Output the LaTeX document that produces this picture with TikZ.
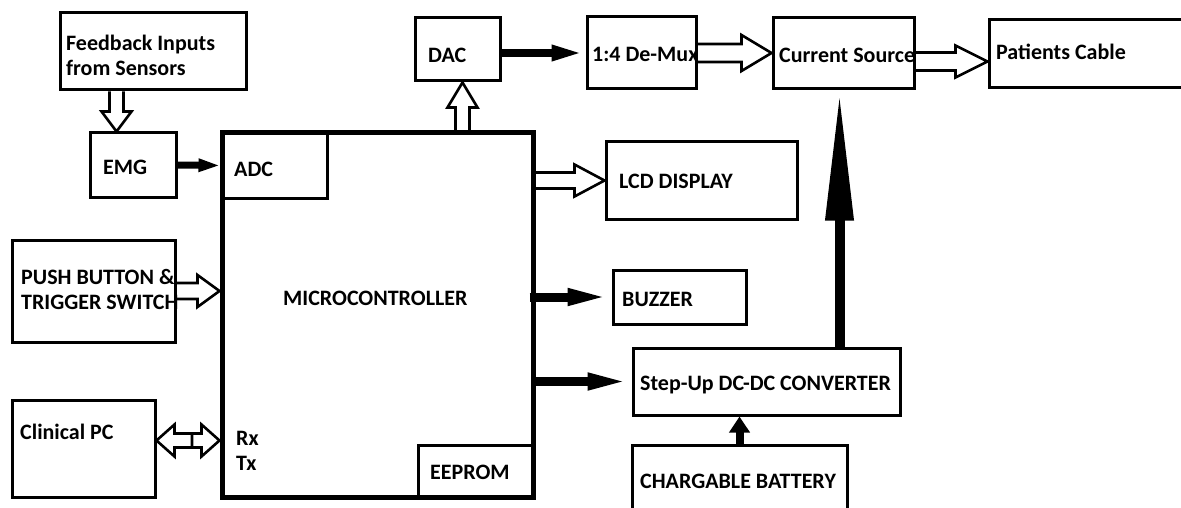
\documentclass[tikz,border=0pt]{standalone}
\usepackage{fontspec}
\setmainfont{Carlito}
\usetikzlibrary{arrows.meta,fit,calc,backgrounds}
\newcommand\harr[5]{\draw[hollow] let \p1=(#1), \p2=(#2) in (\x1,\y1+#3pt) -- (\x2-#5pt,\y1+#3pt) -- (\x2-#5pt,\y1+#4pt) -- (\x2,\y1) -- (\x2-#5pt,\y1-#4pt) -- (\x2-#5pt,\y1-#3pt) -- (\x1,\y1-#3pt);}
\newcommand\uarr[5]{\draw[hollow] let \p1=(#1), \p2=(#2) in (\x1-#3pt,\y1) -- (\x1-#3pt,\y2-#5pt) -- (\x1-#4pt,\y2-#5pt) -- (\x1,\y2) -- (\x1+#4pt,\y2-#5pt) -- (\x1+#3pt,\y2-#5pt) -- (\x1+#3pt,\y1);}
\newcommand\darr[5]{\draw[hollow] let \p1=(#1), \p2=(#2) in (\x1-#3pt,\y1) -- (\x1-#3pt,\y2+#5pt) -- (\x1-#4pt,\y2+#5pt) -- (\x1,\y2) -- (\x1+#4pt,\y2+#5pt) -- (\x1+#3pt,\y2+#5pt) -- (\x1+#3pt,\y1);}
\newcommand\dbarr[5]{\draw[hollow] let \p1=(#1), \p2=(#2) in (\x1,\y1) -- (\x1+#5pt,\y1+#4pt) -- (\x1+#5pt,\y1+#3pt) -- (\x2-#5pt,\y1+#3pt) -- (\x2-#5pt,\y1+#4pt) -- (\x2,\y1) -- (\x2-#5pt,\y1-#4pt) -- (\x2-#5pt,\y1-#3pt) -- (\x1+#5pt,\y1-#3pt) -- (\x1+#5pt,\y1-#4pt) -- cycle (\x1/2+\x2/2+4pt,\y1+#3pt) -- (\x1/2+\x2/2+4pt,\y1-#3pt);}
\begin{document}
\begin{tikzpicture}[x=1pt,y=-1pt,
  box/.style={draw, line width=3pt, inner sep=0pt},
  lbl/.style={anchor=base west, inner sep=0pt, align=left,
    font=\fontsize{22}{25}\selectfont\bfseries},
  hollow/.style={draw, line width=2.6pt, fill=white, line join=miter},
  solidarr/.style={line width=8pt, -{Triangle[length=34pt,width=14pt]}}]
\useasboundingbox (0,0) rectangle (1181,508);
% boxes
\node[box, fit={(60,13) (246,90)}] (fb) {};
\node[box, fit={(90,133) (176,197)}] (emg) {};
\node[box, fit={(222,133) (533,497)}, line width=5pt] (mc) {};
\node[box, fit={(222,133) (327,198)}] (adc) {};
\node[box, fit={(415,18) (500,81)}] (dac) {};
\node[box, fit={(587,17) (696,89)}] (dmx) {};
\node[box, fit={(773,18) (914,89)}] (cs) {};
\node[box, fit={(989,20) (1195,88)}] (pc) {};
\node[box, fit={(606,142) (797,219)}] (lcd) {};
\node[box, fit={(613,270) (746,324)}] (bz) {};
\node[box, fit={(633,348) (900,415)}] (su) {};
\node[box, fit={(632,445) (847,518)}] (bat) {};
\node[box, fit={(12,240) (175,342)}] (pb) {};
\node[box, fit={(12,400) (155,497)}] (cpc) {};
\node[box, fit={(418,445) (533,497)}] (ee) {};
% labels
\node[lbl] (tfb) at (66,76) {Feedback Inputs\\from Sensors};
\node[lbl] (temg) at (103,175) {EMG};
\node[lbl] (tadc) at (234,177) {ADC};
\node[lbl] (tdac) at (428,63) {DAC};
\node[lbl] (tdmx) at (592,62) {1:4 De-Mux};
\node[lbl] (tcs) at (779,63) {Current Source};
\node[lbl] (tpc) at (996,60) {Patients Cable};
\node[lbl] (tlcd) at (619,189) {LCD DISPLAY};
\node[lbl] (tbz) at (622,306) {BUZZER};
\node[lbl] (tsu) at (640,390) {Step-Up DC-DC CONVERTER};
\node[lbl] (tbat) at (640,488) {CHARGABLE BATTERY};
\node[lbl] (tpb) at (21,309) {PUSH BUTTON \&\\TRIGGER SWITCH};
\node[lbl] (tcpc) at (20,439) {Clinical PC};
\node[lbl] (tmc) at (283,305) {MICROCONTROLLER};
\node[lbl] (trx) at (236,470) {Rx\\Tx};
\node[lbl] (tee) at (430,479) {EEPROM};
% connectors
\begin{scope}[on background layer]
\fill[white] (0,0) rectangle (1181,508);
\darr{$(fb.south west)+(58,0)$}{$(emg.north west)+(28,0)$}{7}{15}{20}
\uarr{$(mc.north west)+(243,0)$}{$(dac.south west)+(50,0)$}{7}{15}{25}
\harr{dmx.east}{cs.west}{9}{18}{30}
\harr{$(cs.east)+(0,8)$}{$(pc.west)+(0,8)$}{9}{16}{32}
\harr{mc.east |- lcd.west}{lcd.west}{8}{16}{30}
\harr{pb.east}{pb.east -| mc.west}{8}{16}{22}
\dbarr{$(cpc.east)+(0,-8)$}{$(cpc.east -| mc.west)+(0,-8)$}{7}{16}{18}
\draw[solidarr, line width=7pt, -{Triangle[length=22pt,width=12pt]}] (emg.east) -- (adc.west);
\draw[solidarr] (dac.east |- dmx.west) -- (dmx.west);
\draw[solidarr, line width=9pt, -{Triangle[length=44pt,width=15pt]}] ($(mc.east |- bz.west)+(-6,0)$) -- (bz.west);
\draw[solidarr, line width=9pt, -{Triangle[length=44pt,width=15pt]}] (mc.east |- su.west) -- (su.west);
\draw[line width=8pt, -{Triangle[length=16pt,width=20pt]}] (bat.north) -- (bat.north |- su.south);
\draw[line width=10pt, -{Triangle[length=130pt,width=26pt]}] ($(su.north west)+(208,0)$) -- ($(cs.south west)+(68,0)$);
\end{scope}
\end{tikzpicture}
\end{document}
